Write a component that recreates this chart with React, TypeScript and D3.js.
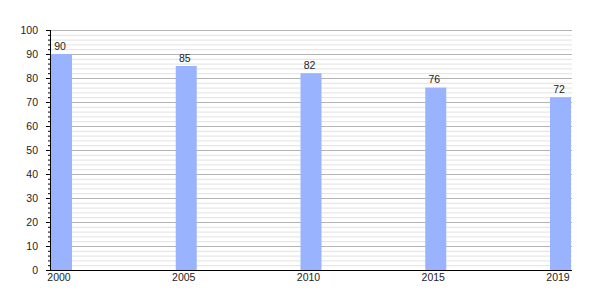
import React from "react";
import * as d3 from "d3";

const years = ["2000", "2005", "2010", "2015", "2019"];
const values = [90, 85, 82, 76, 72];
const yTicks = [0, 10, 20, 30, 40, 50, 60, 70, 80, 90, 100];

export default function App() {
  const W = 600, H = 300;
  const left = 50, right = 572, top = 30, bottom = 270;
  const barW = 21;
  const y = d3.scaleLinear().domain([0, 100]).range([bottom, top]);
  const x = d3.scalePoint<string>().domain(years).range([left + 1, right - barW - 1]);
  const minor = d3.range(0, 101, 2);
  const font = "Liberation Sans, Arial, sans-serif";
  return (
    <svg width={W} height={H} style={{ position: "absolute", left: 0, top: 0, background: "#fff" }} fontFamily={font}>
      {minor.filter(v => v % 10 !== 0).map(v => (
        <line key={"m" + v} x1={left + 1} x2={right} y1={y(v) + 0.5} y2={y(v) + 0.5} stroke="#e2e2e2" strokeWidth={1} />
      ))}
      {yTicks.filter(v => v !== 0).map(v => (
        <line key={"g" + v} x1={left + 1} x2={right} y1={y(v) + 0.5} y2={y(v) + 0.5} stroke="#b4b4b4" strokeWidth={1} />
      ))}
      {years.map((yr, i) => (
        <rect key={yr} x={x(yr)!} y={y(values[i])} width={barW} height={bottom - y(values[i])} fill="#99b3ff" />
      ))}
      {years.map((yr, i) => (
        <text key={"v" + yr} x={x(yr)! + barW / 2 - 1.5} y={y(values[i]) - 4.5} fontSize={10.5} textAnchor="middle" fill="#222">{values[i]}</text>
      ))}
      <line x1={left + 0.5} x2={left + 0.5} y1={top} y2={bottom + 1} stroke="#000" />
      <line x1={left} x2={right} y1={bottom + 0.5} y2={bottom + 0.5} stroke="#000" />
      {minor.filter(v => v % 10 !== 0).map(v => (
        <line key={"mt" + v} x1={left - 2} x2={left} y1={y(v) + 0.5} y2={y(v) + 0.5} stroke="#000" />
      ))}
      {yTicks.map(v => (
        <line key={"t" + v} x1={left - 4} x2={left} y1={y(v) + 0.5} y2={y(v) + 0.5} stroke="#000" />
      ))}
      {yTicks.map(v => (
        <text key={"l" + v} x={38} y={y(v) + 4} fontSize={10.5} textAnchor="end" fill="#222">{v}</text>
      ))}
      {years.map(yr => (
        <text key={"x" + yr} x={x(yr)! + barW / 2 - 2.5} y={281} fontSize={10.5} textAnchor="middle" fill="#222">{yr}</text>
      ))}
    </svg>
  );
}
